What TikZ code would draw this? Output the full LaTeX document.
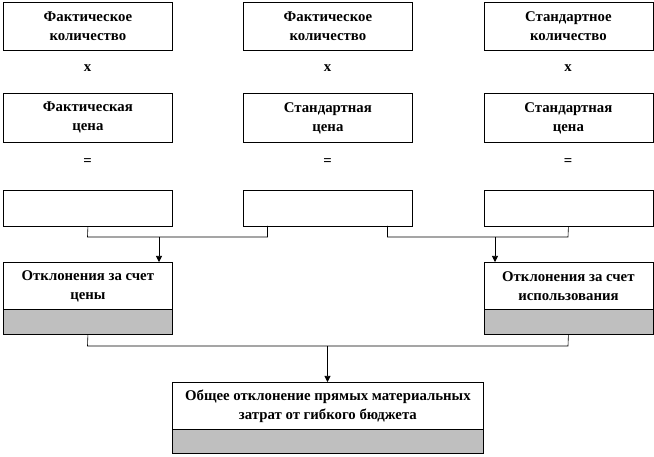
\documentclass[tikz,border=0pt]{standalone}
\usepackage{fontspec}
\setmainfont{Liberation Serif}
\usetikzlibrary{arrows.meta}
\begin{document}
\begin{tikzpicture}[x=1pt,y=-1pt,
  txt/.style={font=\bfseries\fontsize{14.8}{19}\selectfont},
  box/.style={txt,draw=black,line width=0.8pt,fill=white,anchor=north west,inner sep=0pt,align=center,minimum width=169pt},
  graybox/.style={draw=black,line width=0.8pt,fill=gray!50,anchor=north west,inner sep=0pt,minimum width=169pt,minimum height=25pt},
  op/.style={txt,inner sep=0pt},
  conn/.style={draw=black,line width=0.6pt},
  arr/.style={draw=black,line width=0.6pt,-{Triangle[width=6pt,length=6pt]}}
]
\useasboundingbox (0,0) rectangle (654,457);
% row 1
\node[box,minimum height=48pt] (r1a) at (3,2) {Фактическое\\количество};
\node[box,minimum height=48pt] (r1b) at (243,2) {Фактическое\\количество};
\node[box,minimum height=48pt] (r1c) at (483.5,2) {Стандартное\\количество};
% operators x
\node[op] (x1) at (87.5,68) {x};
\node[op] (x2) at (327.5,68) {x};
\node[op] (x3) at (568,68) {x};
% row 2
\node[box,minimum height=49pt] (r2a) at (3,93) {Фактическая\\цена};
\node[box,minimum height=49pt] (r2b) at (243,93) {Стандартная\\цена};
\node[box,minimum height=49pt] (r2c) at (483.5,93) {Стандартная\\цена};
% operators =
\node[op] (e1) at (87.5,162) {=};
\node[op] (e2) at (327.5,162) {=};
\node[op] (e3) at (568,162) {=};
% row 3
\node[box,minimum height=36pt] (r3a) at (3,190) {};
\node[box,minimum height=36pt] (r3b) at (243,190) {};
\node[box,minimum height=36pt] (r3c) at (483.5,190) {};
% deviation boxes
\node[box,minimum height=47pt] (dL) at (3,262) {Отклонения за счет\\цены};
\node[graybox] (dLg) at (3,309) {};
\node[box,minimum height=47pt] (dR) at (483.5,262) {Отклонения за счет\\использования};
\node[graybox] (dRg) at (483.5,309) {};
% total
\node[box,minimum height=47pt,minimum width=311pt] (tot) at (172,382) {Общее отклонение прямых материальных\\затрат от гибкого бюджета};
\node[graybox,minimum width=311pt,minimum height=24pt] (totg) at (172,429) {};
% bus coordinates
\coordinate (m1) at (267.5,226);
\coordinate (m2) at (387.5,226);
\coordinate (b1L) at (87.5,237);
\coordinate (b1R) at (267.5,237);
\coordinate (b2L) at (387.5,237);
\coordinate (b2R) at (568,237);
\coordinate (a1) at (159,237);
\coordinate (a2) at (495,237);
\coordinate (b3L) at (87.5,346);
\coordinate (b3R) at (568,346);
\coordinate (a3) at (327.5,346);
% connectors
\draw[conn] (r3a.south) -- (b1L) -- (b1R) -- (m1);
\draw[conn] (m2) -- (b2L) -- (b2R) -- (r3c.south);
\draw[arr] (a1) -- (a1 |- dL.north);
\draw[arr] (a2) -- (a2 |- dR.north);
\draw[conn] (dLg.south) -- (b3L) -- (b3R) -- (dRg.south);
\draw[arr] (a3) -- (a3 |- tot.north);
\end{tikzpicture}
\end{document}
